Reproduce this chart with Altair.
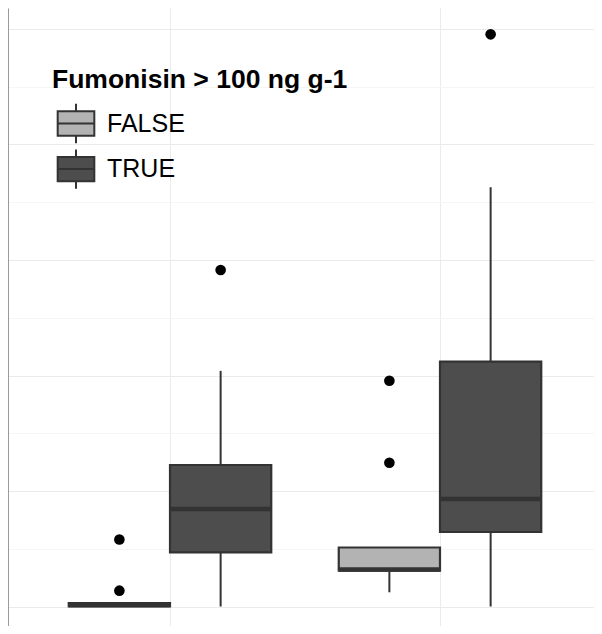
import altair as alt
import pandas as pd

# Box statistics
groups = ["G1", "G1", "G2", "G2"]
fum = ["FALSE", "TRUE", "FALSE", "TRUE"]
lower = [0.0, 0.0, 0.123, 0.0]
q1 = [0.0, 0.469, 0.31, 0.645]
median = [0.012, 0.844, 0.32, 0.931]
q3 = [0.03, 1.225, 0.511, 2.121]
upper = [0.03, 2.04, 0.511, 3.63]

# Outliers
out_group = ["G1", "G1", "G1", "G2", "G2", "G2"]
out_fum = ["FALSE", "FALSE", "TRUE", "FALSE", "FALSE", "TRUE"]
out_val = [0.137, 0.58, 2.913, 1.245, 1.955, 4.954]

y_ticks = [0, 0.5, 1, 1.5, 2, 2.5, 3, 3.5, 4, 4.5, 5]

box = pd.DataFrame({"group": groups, "fum": fum, "lower": lower, "q1": q1,
                    "median": median, "q3": q3, "upper": upper})
outl = pd.DataFrame({"group": out_group, "fum": out_fum, "value": out_val})

xenc = alt.X("group:N",
             scale=alt.Scale(paddingInner=0, paddingOuter=0.0852, align=0.587),
             axis=alt.Axis(labels=False, ticks=False, domain=False, title=None,
                           grid=True, gridColor="#EBEBEB", gridWidth=1))
xoff = alt.XOffset("fum:N",
                   scale=alt.Scale(domain=["FALSE", "TRUE"], paddingOuter=0.3333, paddingInner=0))
yscale = alt.Scale(domain=[-0.1688, 5.1818], nice=False, zero=False)
yaxis = alt.Axis(values=y_ticks, labels=False, ticks=False, title=None,
                 domain=True, domainColor="#9a9a9a", domainWidth=1,
                 gridColor={"condition": {"test": "datum.value % 1 === 0", "value": "#EBEBEB"},
                            "value": "#F5F5F5"},
                 gridWidth=1)

def Y(field):
    return alt.Y(f"{field}:Q", scale=yscale, axis=yaxis)

base = alt.Chart(box).encode(x=xenc, xOffset=xoff)

whisk_lo = base.mark_rule(color="#333333", strokeWidth=2).encode(y=Y("lower"), y2="q1")
whisk_hi = base.mark_rule(color="#333333", strokeWidth=2).encode(y=Y("q3"), y2="upper")

glyph = "M-0.93,-0.62H0.93V0.62H-0.93Z M-0.93,0H0.93 M0,-0.62V-1 M0,0.62V1"

bars = base.mark_bar(stroke="#333333", strokeWidth=2.2, opacity=1).encode(
    y=Y("q1"), y2="q3",
    color=alt.Color("fum:N",
                    scale=alt.Scale(domain=["FALSE", "TRUE"], range=["#B3B3B3", "#4D4D4D"]),
                    legend=alt.Legend(title="Fumonisin > 100 ng g-1", orient="none",
                                      legendX=44, legendY=59, padding=0,
                                      symbolType=glyph, symbolSize=1552,
                                      symbolStrokeColor="#333333", symbolStrokeWidth=2,
                                      symbolOpacity=1, symbolOffset=3,
                                      labelFont="Liberation Sans", labelFontSize=25,
                                      labelColor="black", labelOffset=10,
                                      titleFont="Liberation Sans", titleFontSize=26.5,
                                      titleFontWeight="bold", titleColor="black",
                                      titlePadding=9, rowPadding=-2.4,
                                      titleLimit=500, labelLimit=300)))

med = base.mark_tick(color="#333333", thickness=4.5, size=101, opacity=1).encode(y=Y("median"))

pts = alt.Chart(outl).mark_circle(size=113, color="black", opacity=1).encode(
    x=xenc, xOffset=xoff, y=Y("value"))

chart = alt.layer(whisk_lo, whisk_hi, bars, med, pts).properties(
    width=586, height=618, padding=0, autosize=alt.AutoSizeParams(type="none"),
    background="white"
).configure_view(stroke=None)

chart.save("out.html", embed_options={"renderer": "svg", "actions": False})
